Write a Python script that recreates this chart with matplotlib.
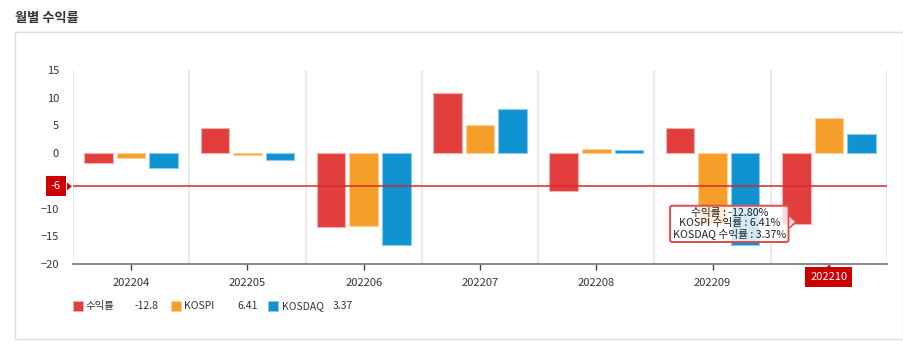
import matplotlib
matplotlib.use("Agg")
import matplotlib.pyplot as plt
import matplotlib.patches as mpatches
import numpy as np

plt.rcParams['font.family'] = ['Noto Sans CJK KR', 'DejaVu Sans']

# data
months = ['202204', '202205', '202206', '202207', '202208', '202209', '202210']
ret = [-1.7, 4.6, -13.4, 10.8, -6.8, 4.5, -12.8]
kospi = [-0.85, -0.3, -13.2, 5.1, 0.8, -12.8, 6.41]
kosdaq = [-2.6, -1.3, -16.6, 7.9, 0.5, -16.6, 3.37]
series_names = ['수익률', 'KOSPI', 'KOSDAQ']
ref_line = -6

colors = ['#e33e3e', '#f59e29', '#0f93d0']
edges = ['#f4b0b0', '#fbd29c', '#8ccaea']
dark_red = '#cc0000'
W, H = 904, 355

fig = plt.figure(figsize=(W / 100, H / 100), dpi=100)
ax = fig.add_axes([73 / W, 91 / H, 814 / W, 194 / H])

x = np.arange(len(months))
offsets = [-0.28, 0.0, 0.28]
for vals, off, c, e in zip([ret, kospi, kosdaq], offsets, colors, edges):
    ax.bar(x + off, vals, width=0.245, color=c, edgecolor=e, linewidth=0.8, zorder=3)

ax.set_xlim(-0.5, len(months) - 0.5)
ax.set_ylim(-20, 15)
ax.set_yticks(range(-20, 16, 5))
ax.set_xticks(x)
ax.set_xticklabels(months)
ax.set_xticks(np.arange(-0.5, len(months), 1), minor=True)
ax.grid(which='minor', axis='x', color='#e6e6e6', lw=1.2, zorder=0)
ax.tick_params(axis='x', which='minor', length=0)
ax.tick_params(axis='x', which='major', length=4, width=1, color='#444',
               labelsize=8, labelcolor='#333', pad=6)
ax.tick_params(axis='y', length=0, labelsize=8, labelcolor='#333', pad=10)
for s in ['top', 'right', 'left']:
    ax.spines[s].set_visible(False)
ax.spines['bottom'].set_color('#888888')
ax.spines['bottom'].set_linewidth(1.4)

# the -5 label sits under the reference-line flag
for t in ax.get_yticklabels():
    if t.get_text().replace('\u2212', '-') == '-5':
        t.set_visible(False)

# last month label is highlighted, drawn separately
ax.get_xticklabels()[-1].set_visible(False)
ax.annotate(months[-1], xy=(x[-1], -20), xytext=(0, -13), textcoords='offset pixels',
            ha='center', va='center', color='white', fontsize=8, annotation_clip=False,
            bbox=dict(boxstyle='square,pad=0.45', fc=dark_red, ec='none'))

# reference line with red label on the axis
ax.axhline(ref_line, color='#d42a2a', lw=1.1, zorder=4)
ax.annotate(f'{ref_line}', xy=(0, ref_line), xycoords=('axes fraction', 'data'),
            xytext=(-17, 0), textcoords='offset pixels', ha='center', va='center',
            color='white', fontsize=8, annotation_clip=False,
            bbox=dict(boxstyle='square,pad=0.45', fc=dark_red, ec='none'))

fig.canvas.draw()
# small pointers for the red labels
p0 = ax.transData.transform((0, ref_line))
p0[0] = ax.transAxes.transform((0, 0))[0]
fig.patches.append(mpatches.Polygon([(p0[0] - 1, p0[1]), (p0[0] - 6, p0[1] + 4), (p0[0] - 6, p0[1] - 4)],
                                    closed=True, fc=dark_red, ec='none', transform=None))
p1 = ax.transData.transform((x[-1], -20))
fig.patches.append(mpatches.Polygon([(p1[0], p1[1] - 1), (p1[0] - 4, p1[1] - 5), (p1[0] + 4, p1[1] - 5)],
                                    closed=True, fc=dark_red, ec='none', transform=None))

# tooltip for the last month
tip_txt = (f'{series_names[0]} : {ret[-1]:.2f}%\n'
           f'{series_names[1]} 수익률 : {kospi[-1]:.2f}%\n'
           f'{series_names[2]} 수익률 : {kosdaq[-1]:.2f}%')
tip = ax.transData.transform((x[-1] + offsets[0], ret[-1] + 0.4))
ax.annotate(tip_txt, xy=(x[-1] + offsets[0], ret[-1] + 0.4), xytext=(-67, -2),
            textcoords='offset pixels', ha='center', va='center', fontsize=7.7,
            color='#222', linespacing=1.0, zorder=10,
            bbox=dict(boxstyle='round,pad=0.25,rounding_size=0.2', fc=(1, 1, 1, 0.82),
                      ec='#e34a4a', lw=1.4))
fig.patches.append(mpatches.Polygon([(tip[0] - 7, tip[1] + 6), (tip[0], tip[1]), (tip[0] - 7, tip[1] - 6)],
                                    closed=False, fc=(1, 1, 1, 0.82), ec='#e34a4a', lw=1.2,
                                    transform=None, zorder=11))

# title and outer frame
fig.text(15 / W, 1 - 18 / H, '월별 수익률', fontsize=9.5, fontweight='bold', color='#333', va='center')
fig.patches.append(mpatches.Rectangle((15 / W, 1 - 339 / H), 888 / W, 307 / H,
                                      transform=fig.transFigure, fill=False,
                                      ec='#dddddd', lw=1))

# legend with last values
last_vals = [ret[-1], kospi[-1], kosdaq[-1]]
sq_x = [73, 171, 268]
lbl_x = [86, 184, 282]
val_x = [135, 237, 333]
ly = 1 - 306 / H
for name, v, c, e, sx, lx, vx in zip(series_names, last_vals, colors, edges, sq_x, lbl_x, val_x):
    fig.patches.append(mpatches.Rectangle((sx / W, ly - 5 / H), 10 / W, 10 / H,
                                          transform=fig.transFigure, fc=c, ec=e, lw=0.6))
    fig.text(lx / W, ly, name, fontsize=7.5, color='#333', va='center')
    fig.text(vx / W, ly, f'{v:g}', fontsize=7.5, color='#333', va='center')

fig.savefig('out.png', dpi=100)
